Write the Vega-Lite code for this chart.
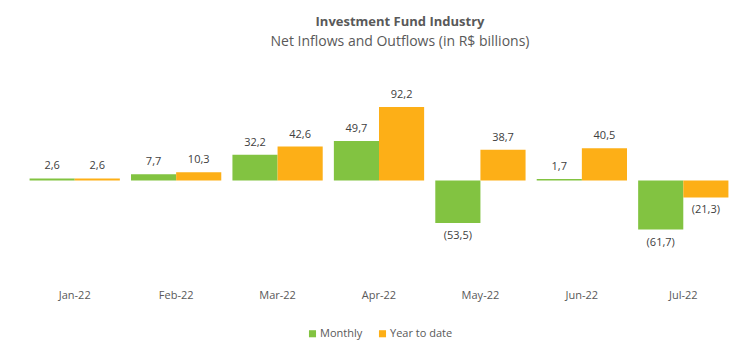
{
  "$schema": "https://vega.github.io/schema/vega-lite/v6.json",
  "width": 710,
  "height": 219,
  "autosize": {"type": "none"},
  "padding": {"left": 24, "top": 61, "right": 16, "bottom": 74},
  "config": {
    "view": {"stroke": null},
    "font": "Open Sans",
    "locale": {"number": {"decimal": ",", "thousands": ".", "grouping": [3], "currency": ["R$ ", ""]}}
  },
  "title": {
    "text": "Investment Fund Industry",
    "subtitle": "Net Inflows and Outflows (in R$ billions)",
    "anchor": "middle",
    "dx": 21,
    "font": "Open Sans",
    "fontSize": 13,
    "fontWeight": "bold",
    "color": "#595959",
    "subtitleFont": "Open Sans",
    "subtitleFontSize": 14,
    "subtitleColor": "#595959",
    "subtitlePadding": 6,
    "offset": 12
  },
  "data": {
    "values": [
      {"month": "Jan-22", "series": "Monthly", "value": 2.6},
      {"month": "Jan-22", "series": "Year to date", "value": 2.6},
      {"month": "Feb-22", "series": "Monthly", "value": 7.7},
      {"month": "Feb-22", "series": "Year to date", "value": 10.3},
      {"month": "Mar-22", "series": "Monthly", "value": 32.2},
      {"month": "Mar-22", "series": "Year to date", "value": 42.6},
      {"month": "Apr-22", "series": "Monthly", "value": 49.7},
      {"month": "Apr-22", "series": "Year to date", "value": 92.2},
      {"month": "May-22", "series": "Monthly", "value": -53.5},
      {"month": "May-22", "series": "Year to date", "value": 38.7},
      {"month": "Jun-22", "series": "Monthly", "value": 1.7},
      {"month": "Jun-22", "series": "Year to date", "value": 40.5},
      {"month": "Jul-22", "series": "Monthly", "value": -61.7},
      {"month": "Jul-22", "series": "Year to date", "value": -21.3}
    ]
  },
  "encoding": {
    "x": {
      "field": "month",
      "type": "nominal",
      "sort": ["Jan-22", "Feb-22", "Mar-22", "Apr-22", "May-22", "Jun-22", "Jul-22"],
      "scale": {"paddingInner": 0.11, "paddingOuter": 0.055},
      "axis": {
        "title": null,
        "labelAngle": 0,
        "domain": false,
        "ticks": false,
        "grid": false,
        "labelPadding": 9,
        "labelFontSize": 11,
        "labelColor": "#595959"
      }
    },
    "xOffset": {"field": "series", "type": "nominal", "sort": ["Monthly", "Year to date"]},
    "y": {"field": "value", "type": "quantitative", "scale": {"domain": [-125, 150]}, "axis": null}
  },
  "layer": [
    {
      "mark": {"type": "bar"},
      "encoding": {
        "color": {
          "field": "series",
          "type": "nominal",
          "scale": {"domain": ["Monthly", "Year to date"], "range": ["#82C341", "#FDAF17"]},
          "legend": {
            "orient": "none",
            "legendX": 283,
            "legendY": 267,
            "direction": "horizontal",
            "title": null,
            "symbolType": "square",
            "symbolSize": 50,
            "symbolStrokeWidth": 0,
            "labelFontSize": 11,
            "labelColor": "#595959",
            "labelOffset": 2,
            "columnPadding": 14,
            "padding": 0
          }
        }
      }
    },
    {
      "transform": [{"filter": "datum.value >= 0"}],
      "mark": {"type": "text", "baseline": "bottom", "dy": -7, "fontSize": 11, "color": "#404040"},
      "encoding": {"text": {"field": "value", "type": "quantitative", "format": "(.1f"}}
    },
    {
      "transform": [{"filter": "datum.value < 0"}],
      "mark": {"type": "text", "baseline": "top", "dy": 7, "fontSize": 11, "color": "#404040"},
      "encoding": {"text": {"field": "value", "type": "quantitative", "format": "(.1f"}}
    }
  ]
}
